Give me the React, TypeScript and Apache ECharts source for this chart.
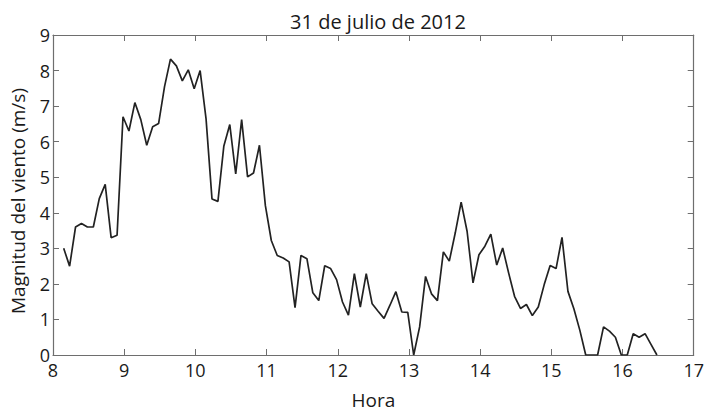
import React, { useEffect, useRef } from "react";
import * as echarts from "echarts";

const title = "31 de julio de 2012";
const xName = "Hora";
const yName = "Magnitud del viento (m/s)";

// Sample times (h:mm), one reading every 5 minutes
const times: string[] = [
  "8:09", "8:14", "8:19", "8:24", "8:29", "8:34", "8:39", "8:44", "8:49", "8:54", "8:59",
  "9:04", "9:09", "9:14", "9:19", "9:24", "9:29", "9:34", "9:39", "9:44", "9:49", "9:54", "9:59",
  "10:04", "10:09", "10:14", "10:19", "10:24", "10:29", "10:34", "10:39", "10:44", "10:49", "10:54", "10:59",
  "11:04", "11:09", "11:14", "11:19", "11:24", "11:29", "11:34", "11:39", "11:44", "11:49", "11:54", "11:59",
  "12:04", "12:09", "12:14", "12:19", "12:24", "12:29", "12:34", "12:39", "12:44", "12:49", "12:54", "12:59",
  "13:04", "13:09", "13:14", "13:19", "13:24", "13:29", "13:34", "13:39", "13:44", "13:49", "13:54", "13:59",
  "14:04", "14:09", "14:14", "14:19", "14:24", "14:29", "14:34", "14:39", "14:44", "14:49", "14:54", "14:59",
  "15:04", "15:09", "15:14", "15:19", "15:24", "15:29", "15:34", "15:39", "15:44", "15:49", "15:54", "15:59",
  "16:04", "16:09", "16:14", "16:19", "16:24", "16:29",
];

// Wind speed (m/s)
const windSpeed: number[] = [
  3.0, 2.5, 3.6, 3.7, 3.6, 3.6, 4.4, 4.8, 3.3, 3.37, 6.7,
  6.3, 7.1, 6.62, 5.9, 6.42, 6.51, 7.55, 8.32, 8.13, 7.71, 8.02, 7.49,
  8.0, 6.64, 4.39, 4.32, 5.88, 6.48, 5.09, 6.62, 5.01, 5.12, 5.9, 4.2,
  3.22, 2.8, 2.73, 2.62, 1.33, 2.8, 2.71, 1.75, 1.53, 2.51, 2.43, 2.12,
  1.49, 1.12, 2.29, 1.35, 2.29, 1.44, 1.23, 1.03, 1.4, 1.78, 1.21, 1.2,
  0, 0.79, 2.21, 1.72, 1.53, 2.9, 2.64, 3.43, 4.3, 3.48, 2.03, 2.82,
  3.06, 3.4, 2.53, 3.01, 2.31, 1.65, 1.31, 1.42, 1.11, 1.35, 1.98, 2.52,
  2.43, 3.31, 1.79, 1.3, 0.7, 0, 0, 0, 0.79, 0.67, 0.5, 0,
  0, 0.6, 0.5, 0.6, 0.3, 0,
];

const xTicks = [8, 9, 10, 11, 12, 13, 14, 15, 16, 17];
const yTicks = [0, 1, 2, 3, 4, 5, 6, 7, 8, 9];

const FONT = "'Open Sans', 'Noto Sans', sans-serif";
const AXIS_COLOR = "#6e6e6e";
const TEXT_COLOR = "#1a1a1a";

export default function App() {
  const ref = useRef<HTMLDivElement>(null);
  useEffect(() => {
    if (!ref.current) return;
    const chart = echarts.init(ref.current, null, { renderer: "svg" });
    const toHour = (t: string) => {
      const [h, m] = t.split(":").map(Number);
      return h + m / 60;
    };
    const data = times.map((t, i) => [toHour(t), windSpeed[i]]);
    const xMin = xTicks[0];
    const xMax = xTicks[xTicks.length - 1];
    const yMin = yTicks[0];
    const yMax = yTicks[yTicks.length - 1];
    const tickCommon = {
      show: true,
      inside: true,
      length: 6,
      lineStyle: { color: AXIS_COLOR, width: 1 },
    };
    const lineCommon = { show: true, onZero: false, lineStyle: { color: AXIS_COLOR, width: 1.2 } };
    chart.setOption({
      animation: false,
      backgroundColor: "#ffffff",
      title: {
        text: title,
        left: 373,
        top: 6,
        textAlign: "center",
        textStyle: { fontFamily: FONT, fontSize: 20, fontWeight: "normal", color: TEXT_COLOR },
      },
      grid: { left: 51, right: 13, top: 35, bottom: 57, containLabel: false },
      xAxis: [
        {
          type: "value",
          min: xMin,
          max: xMax,
          interval: 1,
          position: "bottom",
          name: xName,
          nameLocation: "middle",
          nameGap: 35,
          nameTextStyle: { fontFamily: FONT, fontSize: 19, color: TEXT_COLOR },
          axisLine: lineCommon,
          axisTick: tickCommon,
          axisLabel: { fontFamily: FONT, fontSize: 18, color: TEXT_COLOR, margin: 6 },
          splitLine: { show: false },
        },
        {
          type: "value",
          min: xMin,
          max: xMax,
          interval: 1,
          position: "top",
          axisLine: lineCommon,
          axisTick: tickCommon,
          axisLabel: { show: false },
          splitLine: { show: false },
        },
      ],
      yAxis: [
        {
          type: "value",
          min: yMin,
          max: yMax,
          interval: 1,
          position: "left",
          name: yName,
          nameLocation: "middle",
          nameGap: 26,
          nameRotate: 90,
          nameTextStyle: {
            fontFamily: FONT,
            fontSize: 19,
            color: TEXT_COLOR,
            padding: [0, 12, 0, 0],
          },
          axisLine: lineCommon,
          axisTick: tickCommon,
          axisLabel: { fontFamily: FONT, fontSize: 18, color: TEXT_COLOR, margin: 3 },
          splitLine: { show: false },
        },
        {
          type: "value",
          min: yMin,
          max: yMax,
          interval: 1,
          position: "right",
          axisLine: lineCommon,
          axisTick: tickCommon,
          axisLabel: { show: false },
          splitLine: { show: false },
        },
      ],
      series: [
        {
          type: "line",
          xAxisIndex: 0,
          yAxisIndex: 0,
          data,
          showSymbol: false,
          symbol: "none",
          lineStyle: { color: "#222222", width: 1.7 },
          silent: true,
        },
      ],
    });
    return () => chart.dispose();
  }, []);
  return (
    <div
      ref={ref}
      style={{ width: 707, height: 414, position: "absolute", left: 0, top: 0 }}
    />
  );
}
